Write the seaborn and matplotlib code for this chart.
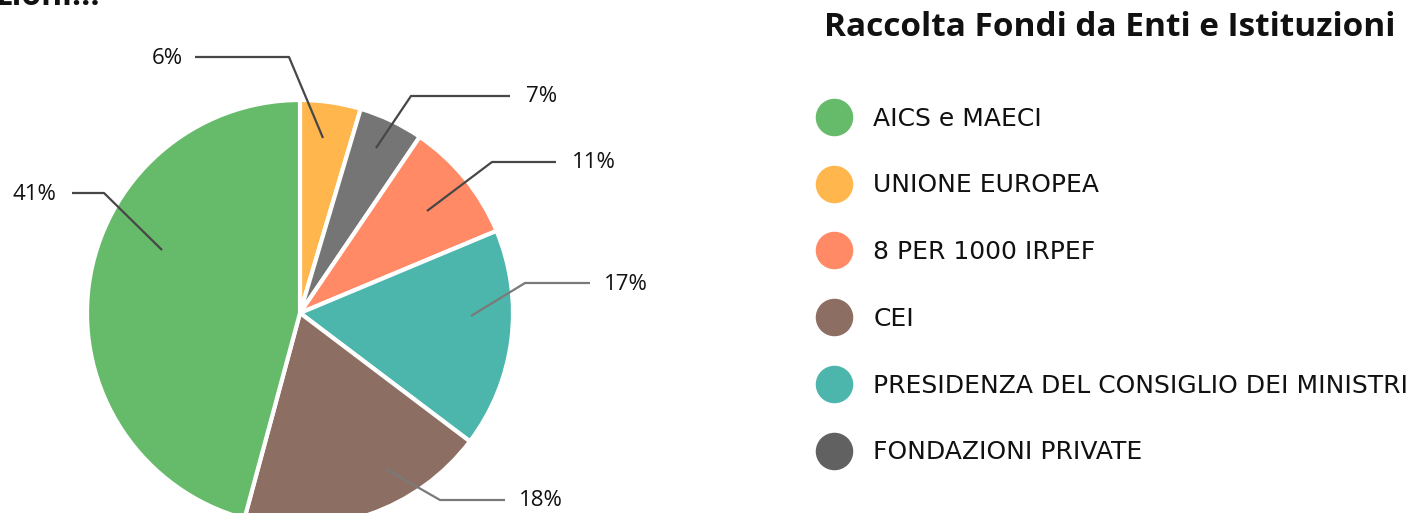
import matplotlib
matplotlib.use("Agg")
import matplotlib.pyplot as plt
from matplotlib.lines import Line2D
import seaborn as sns

# dati (ordine della legenda)
categories = ["AICS e MAECI", "UNIONE EUROPEA", "8 PER 1000 IRPEF", "CEI",
              "PRESIDENZA DEL CONSIGLIO DEI MINISTRI", "FONDAZIONI PRIVATE"]
values = [45.8, 4.6, 9.2, 18.9, 16.6, 4.9]          # ampiezza degli spicchi
pct_labels = ["41%", "6%", "11%", "18%", "17%", "7%"]  # etichette mostrate
slice_colors = ["#66bb6a", "#ffb74d", "#ff8a65", "#8d6e63", "#4db6ac", "#757575"]
legend_colors = ["#66bb6a", "#ffb74d", "#ff8a65", "#8d6e63", "#4db6ac", "#616161"]
# ordine orario degli spicchi partendo da ore 12
pie_order = [1, 5, 2, 4, 3, 0]

W, H = 1425, 513

# etichette: punto interno, gomito, fine linea, x testo, allineamento, colore (pixel, y dall'alto)
label_layout = {
    "6%": ((323, 138), (289, 57), (195, 57), 183, "right", "#474747"),
    "7%": ((376, 148), (411, 96), (510, 96), 526, "left", "#474747"),
    "11%": ((427, 211), (492, 162), (556, 162), 572, "left", "#474747"),
    "17%": ((471, 316), (525, 283), (590, 283), 604, "left", "#7a7a7a"),
    "18%": ((386, 469), (440, 500), (505, 500), 519, "left", "#7a7a7a"),
    "41%": ((162, 250), (104, 193), (72, 193), 56, "right", "#474747"),
}

FONT = ["Open Sans", "DejaVu Sans"]

sns.set_theme(style="white")
plt.rcParams["font.family"] = FONT

fig = plt.figure(figsize=(W / 100, H / 100), dpi=100)
ax = fig.add_axes([0, 0, 1, 1])

def py(y):
    return H - y

ax.pie([values[i] for i in pie_order],
       colors=[slice_colors[i] for i in pie_order],
       startangle=90, counterclock=False,
       center=(300, py(313)), radius=213,
       wedgeprops=dict(edgecolor="white", linewidth=3))

for i in pie_order:
    lab = pct_labels[i]
    p0, p1, p2, tx, ha, col = label_layout[lab]
    ax.plot([p0[0], p1[0], p2[0]], [py(p0[1]), py(p1[1]), py(p2[1])],
            color=col, lw=1.6, solid_capstyle="butt")
    ax.text(tx, py(p2[1]) - 1, lab, ha=ha, va="center", fontsize=16,
            color="#111111")

# titolo
ax.text(1110, py(27), "Raccolta Fondi da Enti e Istituzioni", ha="center",
        va="center", fontsize=24, fontweight="bold", color="#111111")
# titolo tagliato in alto a sinistra
ax.text(-4, py(5), "zioni...", ha="left", va="baseline", fontsize=23,
        fontweight="bold", color="#111111")

handles = [Line2D([0], [0], marker="o", linestyle="", markersize=26,
                  markerfacecolor=c, markeredgecolor=c) for c in legend_colors]
ax.legend(handles, categories, loc="center left",
          bbox_to_anchor=(817, py(285.5)), bbox_transform=ax.transData,
          frameon=False, borderpad=0, borderaxespad=0,
          handlelength=1.4, handletextpad=0.85, labelspacing=1.71,
          prop=dict(family=["DejaVu Sans"], size=18))
for t in ax.get_legend().get_texts():
    t.set_color("#111111")

ax.set_xlim(0, W)
ax.set_ylim(0, H)
ax.set_aspect("auto")
ax.axis("off")

fig.savefig("out.png", dpi=100, facecolor="white")
